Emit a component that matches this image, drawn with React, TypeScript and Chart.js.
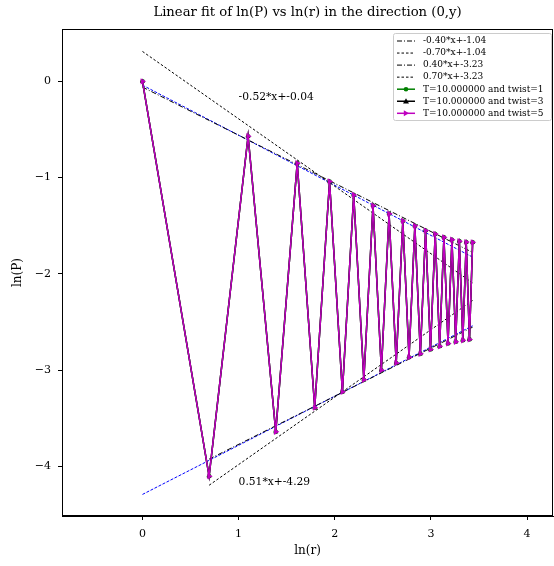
import React, { useEffect, useRef } from "react";
import { Chart, registerables } from "chart.js";

Chart.register(...registerables);

// ---- data ----
const rValues = [1, 2, 3, 4, 5, 6, 7, 8, 9, 10, 11, 12, 13, 14, 15, 16, 17, 18, 19, 20, 21, 22, 23, 24, 25, 26, 27, 28, 29, 30, 31];
// ln(P) at odd r (1,3,...,31)
const lnPOdd = [0, -0.57, -0.85, -1.04, -1.18, -1.29, -1.375, -1.45, -1.5, -1.55, -1.585, -1.62, -1.645, -1.66, -1.67, -1.672];
// ln(P) at even r (2,4,...,30)
const lnPEven = [-4.1, -3.64, -3.39, -3.225, -3.1, -3.0, -2.925, -2.866, -2.83, -2.785, -2.752, -2.722, -2.705, -2.69, -2.68];

const seriesLabels = ["T=10.000000 and twist=1", "T=10.000000 and twist=3", "T=10.000000 and twist=5"];
const seriesColors = ["#008000", "#000000", "#bf00bf"];

const fitSlopes = [-0.52, 0.51];
const fitIntercepts = [-0.04, -4.29];
const fitTexts = ["-0.52*x+-0.04", "0.51*x+-4.29"];
const fitTextPos = [[1.0, -0.165], [1.0, -4.165]];

const guideLabels = ["-0.40*x+-1.04", "-0.70*x+-1.04", "0.40*x+-3.23", "0.70*x+-3.23"];
const guideSlopes = [-0.5, -0.7, 0.5, 0.7];
const guideIntercepts = [-0.06, 0.31, -4.27, -4.68];
const guideStartR = [1, 1, 2, 2];
const guideEndR = 31;
const guideDashes = [[5, 2, 1, 2], [2.5, 2], [5, 2, 1, 2], [2.5, 2]];

const xTicks = [0, 1, 2, 3, 4];
const yTicks = [0, -1, -2, -3, -4];

const SERIF = "'DejaVu Serif', serif";

function seriesPoints() {
  return rValues.map((r) => {
    const y = r % 2 === 1 ? lnPOdd[(r - 1) / 2] : lnPEven[r / 2 - 1];
    return { x: Math.log(r), y };
  });
}

function fmt(v: number) {
  return v < 0 ? "\u2212" + Math.abs(v) : String(v);
}

const decoPlugin = {
  id: "deco",
  afterDraw(chart: any) {
    const { ctx, chartArea } = chart;
    const { left, right, top, bottom } = chartArea;
    const xs = chart.scales.x;
    const ys = chart.scales.y;
    ctx.save();
    // frame
    ctx.strokeStyle = "#000";
    ctx.lineWidth = 1;
    ctx.setLineDash([]);
    ctx.strokeRect(left + 0.5, top + 0.5, right - left - 1, bottom - top - 1);

    ctx.fillStyle = "#000";
    // title
    ctx.font = `13.2px ${SERIF}`;
    ctx.textAlign = "center";
    ctx.textBaseline = "middle";
    ctx.fillText("Linear fit of ln(P) vs ln(r) in the direction (0,y)", (left + right) / 2, 13);
    // axis titles
    ctx.font = `12px ${SERIF}`;
    ctx.fillText("ln(r)", (left + right) / 2, 551);
    ctx.save();
    ctx.translate(18, (top + bottom) / 2);
    ctx.rotate(-Math.PI / 2);
    ctx.fillText("ln(P)", 0, 0);
    ctx.restore();

    // fit annotations
    ctx.font = `10.7px ${SERIF}`;
    ctx.textAlign = "left";
    fitTexts.forEach((t, i) => {
      ctx.fillText(t, xs.getPixelForValue(fitTextPos[i][0]), ys.getPixelForValue(fitTextPos[i][1]));
    });

    // legend
    const lx = 393.5, ly = 33.5, lw = 158, lh = 87;
    ctx.fillStyle = "rgba(255,255,255,0.85)";
    ctx.strokeStyle = "#cccccc";
    ctx.lineWidth = 1;
    ctx.beginPath();
    const rr = 2;
    ctx.moveTo(lx + rr, ly);
    ctx.arcTo(lx + lw, ly, lx + lw, ly + lh, rr);
    ctx.arcTo(lx + lw, ly + lh, lx, ly + lh, rr);
    ctx.arcTo(lx, ly + lh, lx, ly, rr);
    ctx.arcTo(lx, ly, lx + lw, ly, rr);
    ctx.closePath();
    ctx.fill();
    ctx.stroke();

    const rowY = (i: number) => 41 + i * 12.05;
    const x0 = 397, x1 = 415, tx = 423;
    ctx.font = `9px ${SERIF}`;
    ctx.textAlign = "left";
    ctx.textBaseline = "middle";
    guideLabels.forEach((lab, i) => {
      const yy = rowY(i);
      ctx.strokeStyle = "#000";
      ctx.lineWidth = 1;
      ctx.setLineDash(guideDashes[i]);
      ctx.beginPath();
      ctx.moveTo(x0, yy);
      ctx.lineTo(x1, yy);
      ctx.stroke();
      ctx.setLineDash([]);
      ctx.fillStyle = "#000";
      ctx.fillText(lab, tx, yy);
    });
    seriesLabels.forEach((lab, j) => {
      const yy = rowY(4 + j);
      const c = seriesColors[j];
      ctx.strokeStyle = c;
      ctx.fillStyle = c;
      ctx.lineWidth = 1.5;
      ctx.setLineDash([]);
      ctx.beginPath();
      ctx.moveTo(x0, yy);
      ctx.lineTo(x1, yy);
      ctx.stroke();
      const cx = (x0 + x1) / 2;
      ctx.beginPath();
      if (j === 0) {
        ctx.arc(cx, yy, 2.3, 0, Math.PI * 2);
      } else if (j === 1) {
        ctx.moveTo(cx, yy - 3);
        ctx.lineTo(cx + 3, yy + 2.2);
        ctx.lineTo(cx - 3, yy + 2.2);
        ctx.closePath();
      } else {
        ctx.moveTo(cx + 3, yy);
        ctx.lineTo(cx - 2.2, yy - 3);
        ctx.lineTo(cx - 2.2, yy + 3);
        ctx.closePath();
      }
      ctx.fill();
      ctx.fillStyle = "#000";
      ctx.fillText(lab, tx, yy);
    });
    ctx.restore();
  },
};

export default function App() {
  const ref = useRef<HTMLCanvasElement>(null);
  useEffect(() => {
    document.body.style.margin = "0";
    const pts = seriesPoints();
    const xEnd = Math.log(rValues[rValues.length - 1]);
    const datasets: any[] = [];
    const pointStyles = ["circle", "triangle", "triangle"];
    const rotations = [0, 0, 90];
    const radii = [2.3, 2.8, 3.6];
    [2, 1, 0].forEach((k, idx) => {
      datasets.push({
        label: seriesLabels[k],
        data: pts,
        borderColor: seriesColors[k],
        backgroundColor: seriesColors[k],
        borderWidth: 1.5,
        pointStyle: pointStyles[k],
        rotation: rotations[k],
        pointRadius: radii[k],
        pointBorderWidth: 0,
        order: idx,
        showLine: true,
        tension: 0,
      });
    });
    fitSlopes.forEach((a, i) => {
      datasets.push({
        label: fitTexts[i],
        data: [
          { x: 0, y: fitIntercepts[i] },
          { x: xEnd, y: a * xEnd + fitIntercepts[i] },
        ],
        borderColor: "#0000ff",
        borderWidth: 1,
        borderDash: [3, 1.5],
        pointRadius: 0,
        showLine: true,
        order: 4,
      });
    });
    guideSlopes.forEach((a, i) => {
      const xs0 = Math.log(guideStartR[i]);
      const xs1 = Math.log(guideEndR);
      datasets.push({
        label: guideLabels[i],
        data: [
          { x: xs0, y: a * xs0 + guideIntercepts[i] },
          { x: xs1, y: a * xs1 + guideIntercepts[i] },
        ],
        borderColor: "#000000",
        borderWidth: 1,
        borderDash: guideDashes[i],
        pointRadius: 0,
        showLine: true,
        order: 3,
      });
    });

    const tickFont = { family: SERIF, size: 11 };
    const chart = new Chart(ref.current!, {
      type: "scatter",
      data: { datasets },
      options: {
        animation: false,
        responsive: false,
        devicePixelRatio: 1,
        layout: { autoPadding: false, padding: { top: 29, right: 1, left: 0, bottom: 0 } },
        plugins: { legend: { display: false }, tooltip: { enabled: false }, title: { display: false } },
        scales: {
          x: {
            type: "linear",
            min: -0.837,
            max: 4.27,
            afterBuildTicks: (s: any) => {
              s.ticks = xTicks.map((v) => ({ value: v }));
            },
            afterFit: (s: any) => {
              s.height = 50;
              s.paddingLeft = 0;
              s.paddingRight = 0;
            },
            ticks: { color: "#000", font: tickFont, padding: 8, maxRotation: 0, callback: (v: any) => fmt(Number(v)) },
            grid: { display: true, drawOnChartArea: false, drawTicks: true, tickLength: 4, color: "#000", lineWidth: 1 },
            border: { display: true, color: "#000" },
          },
          y: {
            type: "linear",
            min: -4.514,
            max: 0.543,
            afterBuildTicks: (s: any) => {
              s.ticks = yTicks.map((v) => ({ value: v }));
            },
            afterFit: (s: any) => {
              s.width = 62;
              s.paddingTop = 0;
              s.paddingBottom = 0;
            },
            ticks: { color: "#000", font: tickFont, padding: 7, callback: (v: any) => fmt(Number(v)) },
            grid: { display: true, drawOnChartArea: false, drawTicks: true, tickLength: 4, color: "#000", lineWidth: 1 },
            border: { display: true, color: "#000" },
          },
        },
      },
      plugins: [decoPlugin],
    });
    return () => chart.destroy();
  }, []);
  return (
    <div style={{ width: 554, height: 566 }}>
      <canvas ref={ref} width={554} height={566} style={{ display: "block" }} />
    </div>
  );
}
